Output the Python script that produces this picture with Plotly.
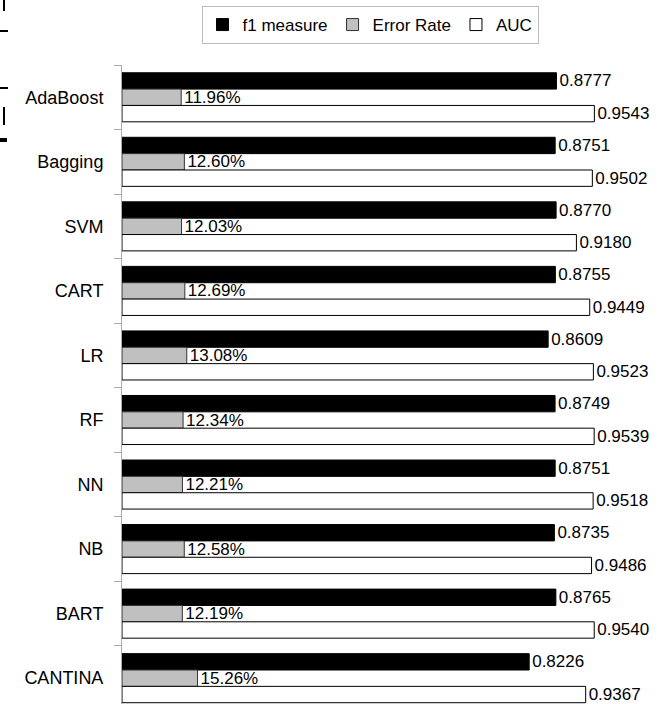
import plotly.graph_objects as go

# Classifier comparison: f1 measure, error rate and AUC
models = ["AdaBoost", "Bagging", "SVM", "CART", "LR", "RF", "NN", "NB", "BART", "CANTINA"]
f1_measure = [0.8777, 0.8751, 0.8770, 0.8755, 0.8609, 0.8749, 0.8751, 0.8735, 0.8765, 0.8226]
error_rate = [0.1196, 0.1260, 0.1203, 0.1269, 0.1308, 0.1234, 0.1221, 0.1258, 0.1219, 0.1526]
auc = [0.9543, 0.9502, 0.9180, 0.9449, 0.9523, 0.9539, 0.9518, 0.9486, 0.9540, 0.9367]

W, H = 665, 704
ML, MR, MT, MB = 122, 48, 65, 0
PW, PH = W - ML - MR, H - MT - MB

FONT = "Liberation Sans, Arial, sans-serif"

fig = go.Figure()

common = dict(
    orientation="h",
    textposition="outside",
    cliponaxis=False,
    constraintext="none",
    textfont=dict(family=FONT, size=17, color="black"),
)

fig.add_trace(go.Bar(
    name="f1 measure", y=models, x=f1_measure,
    text=[f"{v:.4f}" for v in f1_measure],
    marker=dict(color="black", line=dict(color="black", width=1)),
    **common,
))
fig.add_trace(go.Bar(
    name="Error Rate", y=models, x=error_rate,
    text=[f"{v * 100:.2f}%" for v in error_rate],
    marker=dict(color="#c0c0c0", line=dict(color="#333333", width=1)),
    **common,
))
fig.add_trace(go.Bar(
    name="AUC", y=models, x=auc,
    text=[f"{v:.4f}" for v in auc],
    marker=dict(color="white", line=dict(color="black", width=1)),
    **common,
))

# small fragments along the left edge of the page
def px_x(p):
    return (p - ML) / PW

def px_y(p):
    return 1 - (p - MT) / PH

shapes = []
for yy in (31, 88):
    shapes.append(dict(type="line", xref="paper", yref="paper",
                       x0=px_x(0), x1=px_x(8), y0=px_y(yy), y1=px_y(yy),
                       line=dict(color="black", width=2)))
shapes.append(dict(type="rect", xref="paper", yref="paper",
                   x0=px_x(0), x1=px_x(7), y0=px_y(142), y1=px_y(138),
                   fillcolor="black", line=dict(width=0)))
shapes.append(dict(type="line", xref="paper", yref="paper",
                   x0=px_x(4), x1=px_x(4), y0=px_y(107), y1=px_y(125),
                   line=dict(color="black", width=2)))
shapes.append(dict(type="line", xref="paper", yref="paper",
                   x0=px_x(4), x1=px_x(4), y0=px_y(0), y1=px_y(11),
                   line=dict(color="black", width=2)))

fig.update_layout(
    width=W, height=H,
    margin=dict(l=ML, r=MR, t=MT, b=MB, pad=0),
    paper_bgcolor="white", plot_bgcolor="white",
    barmode="group", bargap=0.24, bargroupgap=0,
    font=dict(family=FONT, size=17, color="black"),
    showlegend=True,
    legend=dict(
        orientation="h", x=px_x(370), xanchor="center",
        y=px_y(6), yanchor="top",
        bordercolor="#bbbbbb", borderwidth=1,
        font=dict(family=FONT, size=17, color="black"),
        traceorder="normal", itemwidth=30,
    ),
    shapes=shapes,
)
fig.update_xaxes(range=[0, 1], visible=False, showgrid=False, zeroline=False)
fig.update_yaxes(
    range=[9.4, -0.5], showgrid=False, zeroline=False,
    showline=True, linecolor="#aaaaaa", linewidth=1,
    ticks="outside", tickson="boundaries", ticklen=7, tickcolor="#aaaaaa",
    ticklabelstandoff=14,
    tickfont=dict(family=FONT, size=18, color="black"),
)

fig.write_html("out.html")
